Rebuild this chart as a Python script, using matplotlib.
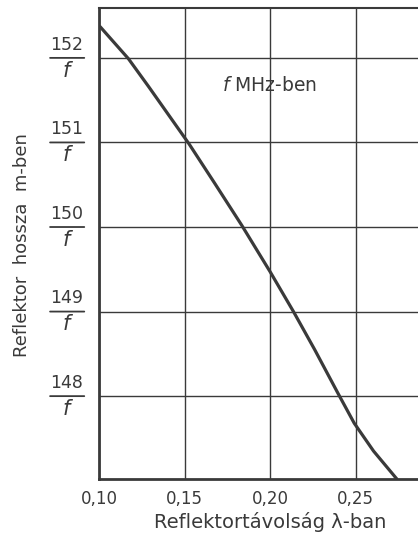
import numpy as np
import matplotlib.pyplot as plt

# curve: reflector spacing (wavelengths) vs length (x f)
spacing = [0.1006, 0.1172, 0.1290, 0.1527, 0.1675, 0.1834, 0.2000,
           0.2136, 0.2260, 0.2397, 0.2491, 0.2604, 0.2740]
length = [152.37, 151.99, 151.66, 150.98, 150.52, 150.02, 149.47,
          149.00, 148.55, 148.03, 147.68, 147.35, 147.02]

x_ticks = [0.10, 0.15, 0.20, 0.25]
x_tick_labels = ['0,10', '0,15', '0,20', '0,25']
y_ticks = [148, 149, 150, 151, 152]

ink = '#3a3a3a'
plt.rcParams['font.family'] = ['DejaVu Sans']

fig = plt.figure(figsize=(4.18, 5.45), dpi=100)
ax = fig.add_axes([99 / 418, 1 - 479 / 545, 1 - 99 / 418 + 0.01, (479 - 8) / 545])

ax.plot(spacing, length, color=ink, lw=2.3, solid_capstyle='round',
        solid_joinstyle='round', zorder=3)

ax.set_xlim(0.10, 0.2888)
ax.set_ylim(147.02, 152.59)
ax.set_xticks(x_ticks)
ax.set_xticklabels(x_tick_labels, fontsize=12, color=ink)
ax.set_yticks(y_ticks)
ax.set_yticklabels([])
ax.tick_params(axis='both', length=0, pad=8)
ax.grid(True, color=ink, lw=1.0)

for side in ['left', 'bottom']:
    ax.spines[side].set_linewidth(2.0)
    ax.spines[side].set_color(ink)
ax.spines['top'].set_linewidth(1.5)
ax.spines['top'].set_color(ink)
ax.spines['right'].set_visible(False)

# fraction style y labels: number over f
for v in y_ticks:
    ax.annotate('', xy=(-0.037, v), xycoords=('axes fraction', 'data'),
                xytext=(-0.16, v), textcoords=('axes fraction', 'data'),
                arrowprops=dict(arrowstyle='-', color=ink, lw=1.3))
    ax.annotate(str(v), xy=(-0.10, v), xycoords=('axes fraction', 'data'),
                xytext=(0, 3), textcoords='offset points',
                ha='center', va='bottom', fontsize=12.5, color=ink)
    ax.annotate('f', xy=(-0.10, v), xycoords=('axes fraction', 'data'),
                xytext=(0, -2), textcoords='offset points',
                ha='center', va='top', fontsize=15, style='italic', color=ink)

ax.text(0.38, 0.835, '$f$ MHz-ben', transform=ax.transAxes, fontsize=13.5,
        color=ink, ha='left', va='center')

fig.text(22 / 418, 1 - 245 / 545, 'Reflektor  hossza  m-ben', rotation=90,
         ha='center', va='center', fontsize=13, color=ink)
fig.text(270 / 418, 1 - 522 / 545, 'Reflektortávolság λ-ban',
         ha='center', va='center', fontsize=14, color=ink)

fig.savefig('out.png', dpi=100, facecolor='white')
